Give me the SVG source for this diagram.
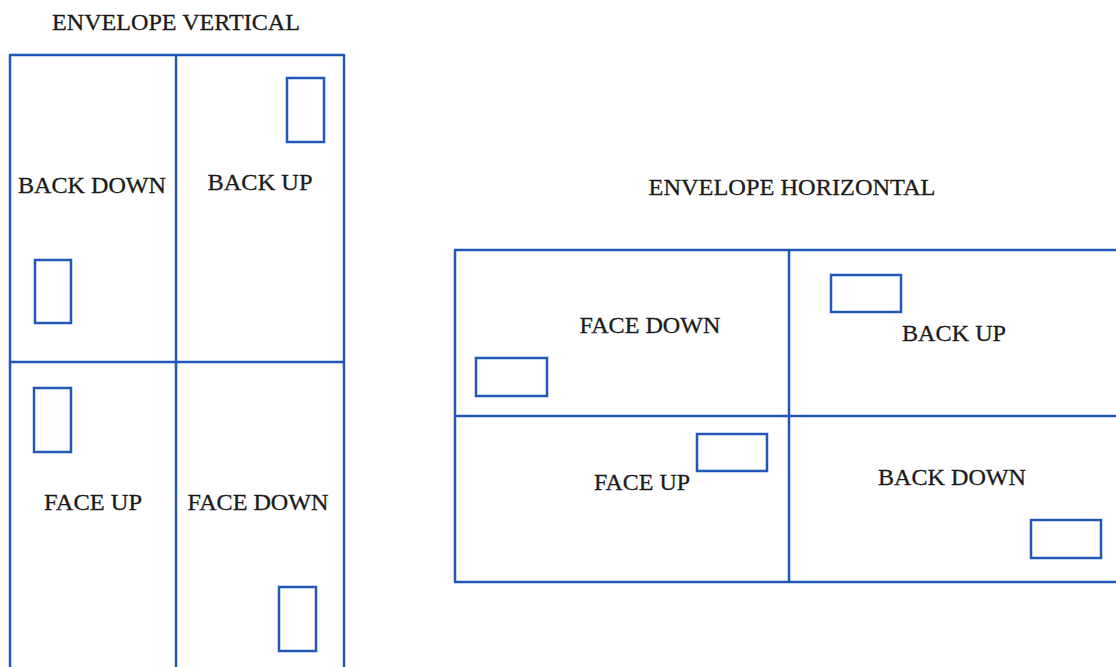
<svg xmlns="http://www.w3.org/2000/svg" width="1116" height="667" viewBox="0 0 1116 667">
<style>
.ln{fill:none;stroke:#2158b8;stroke-width:2.5;stroke-linejoin:round}
.sm{fill:none;stroke:#2158b8;stroke-width:2.5}
.t{font-family:"Liberation Serif","Times New Roman",serif;font-size:24px;fill:#1a1a1a;text-anchor:middle;stroke:#1a1a1a;stroke-width:0.3}
</style>
<rect width="1116" height="667" fill="#fff"/>
<g id="vertical">
<text class="t" x="176" y="30" textLength="248" lengthAdjust="spacingAndGlyphs">ENVELOPE VERTICAL</text>
<path class="ln" d="M10,680 V55 H344 V680 M176,55 V680 M10,362 H344"/>
<g id="v-back-down"><text class="t" x="92" y="193" textLength="148" lengthAdjust="spacingAndGlyphs">BACK DOWN</text><rect class="sm" x="35" y="260" width="36" height="63"/></g>
<g id="v-back-up"><text class="t" x="260" y="190" textLength="105" lengthAdjust="spacingAndGlyphs">BACK UP</text><rect class="sm" x="287" y="78" width="37" height="64"/></g>
<g id="v-face-up"><text class="t" x="93" y="510" textLength="98" lengthAdjust="spacingAndGlyphs">FACE UP</text><rect class="sm" x="34" y="388" width="37" height="64"/></g>
<g id="v-face-down"><text class="t" x="258" y="510" textLength="141" lengthAdjust="spacingAndGlyphs">FACE DOWN</text><rect class="sm" x="279" y="587" width="37" height="64"/></g>
</g>
<g id="horizontal">
<text class="t" x="792" y="195" textLength="287" lengthAdjust="spacingAndGlyphs">ENVELOPE HORIZONTAL</text>
<path class="ln" d="M1130,250 H455 V582 H1130 M789,250 V582 M455,416 H1130"/>
<g id="h-face-down"><text class="t" x="650" y="333" textLength="141" lengthAdjust="spacingAndGlyphs">FACE DOWN</text><rect class="sm" x="476" y="358" width="71" height="38"/></g>
<g id="h-back-up"><text class="t" x="954" y="341" textLength="104" lengthAdjust="spacingAndGlyphs">BACK UP</text><rect class="sm" x="831" y="275" width="70" height="37"/></g>
<g id="h-face-up"><text class="t" x="642" y="490" textLength="96" lengthAdjust="spacingAndGlyphs">FACE UP</text><rect class="sm" x="697" y="434" width="70" height="37"/></g>
<g id="h-back-down"><text class="t" x="952" y="485" textLength="148" lengthAdjust="spacingAndGlyphs">BACK DOWN</text><rect class="sm" x="1031" y="520" width="70" height="38"/></g>
</g>
</svg>
